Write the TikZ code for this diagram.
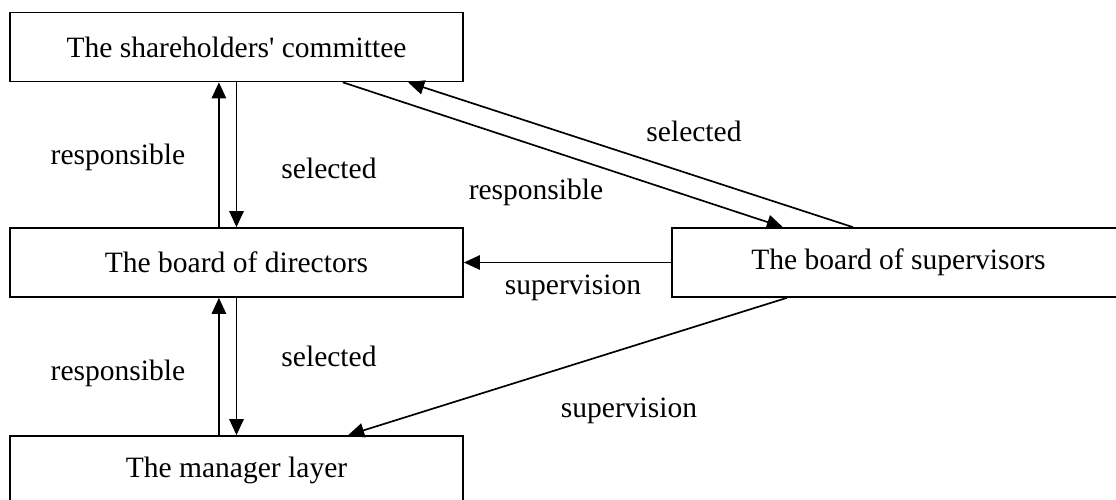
\documentclass[tikz,border=0pt]{standalone}
\usepackage{fontspec}
\setmainfont{Liberation Serif}
\usepackage{tikz}
\usetikzlibrary{arrows.meta}

\begin{document}
\begin{tikzpicture}[
            x=0.025cm, y=-0.025cm,
            every node/.append style = {font=\fontsize{21}{25}\selectfont},
            unit/.style = {draw, line width=1.2pt, inner sep=0pt,
                           minimum width=11.325cm, minimum height=1.725cm},
            link/.style = {line width=1.2pt, -{Triangle[length=0.4cm, width=0.36cm]}}
                        ]
            \useasboundingbox (0,0) rectangle (1116,499);
            % boxes
            \node[unit] (share)   at (236.5,47)  {The shareholders\textquotesingle{} committee};
            \node[unit] (board)   at (236.5,262.5) {The board of directors};
            \node[unit] (manager) at (236.5,470.5) {The manager layer};
            \node[unit] (superv)  at (898.5,262.5) {The board of supervisors};
            % vertical links
            \draw[link] ([xshift=-0.44cm]board.north)  -- ([xshift=-0.44cm]share.south);
            \draw[link] (share.south) -- (board.north);
            \draw[link] ([xshift=-0.44cm]manager.north) -- ([xshift=-0.44cm]board.south);
            \draw[link] (board.south) -- (manager.north);
            % diagonal links
            \draw[link] ([xshift=2.66cm]share.south)   -- ([xshift=-2.89cm]superv.north);
            \draw[link] ([xshift=-1.14cm]superv.north) -- ([xshift=4.29cm]share.south);
            \draw[link] (superv.west) -- (board.east);
            \draw[link] ([xshift=-2.79cm]superv.south) -- ([xshift=2.79cm]manager.north);
            % labels
            \node (resp1) at (118,157) {responsible};
            \node (sel1)  at (329,168) {selected};
            \node (sel2)  at (694,131) {selected};
            \node (resp2) at (536,192) {responsible};
            \node (sup1)  at (573,288) {supervision};
            \node (resp3) at (118,373) {responsible};
            \node (sel3)  at (329,356) {selected};
            \node (sup2)  at (629,411) {supervision};
    \end{tikzpicture}
\end{document}
